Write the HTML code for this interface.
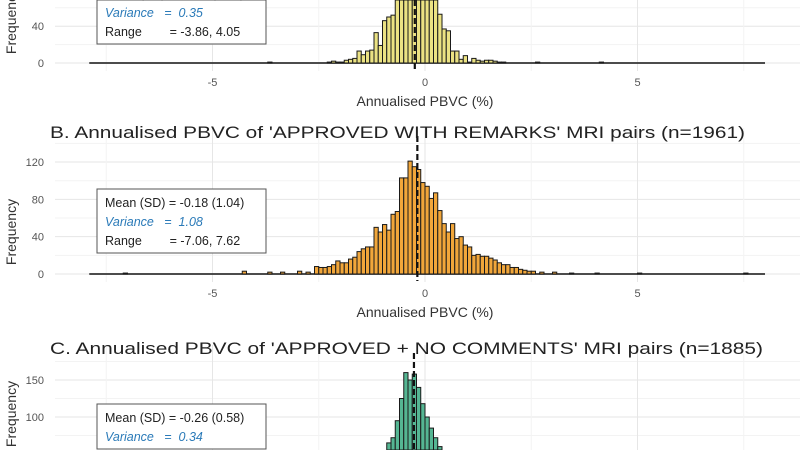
<!DOCTYPE html>
<html><head><meta charset="utf-8"><style>
html,body{margin:0;padding:0;background:#fff;width:800px;height:450px;overflow:hidden;}
svg{display:block;font-family:"Liberation Sans",sans-serif;overflow:hidden;}
</style></head><body>
<svg id="chart" width="800" height="450" viewBox="0 0 800 450" xmlns="http://www.w3.org/2000/svg"></svg>
<script>
// Panel A (yellow)
const binsA = [-2.3,-2.2,-2.1,-2.0,-1.9,-1.8,-1.7,-1.6,-1.5,-1.4,-1.3,-1.2,-1.1,-1.0,-0.9,-0.8,-0.7,-0.6,-0.5,-0.4,-0.3,-0.2,-0.1,0.0,0.1,0.2,0.3,0.4,0.5,0.6,0.7,0.8,0.9,1.0,1.1,1.2,1.3,1.4,1.5,1.6,1.7,1.8,-3.7,2.6,4.1];
const countsA = [1,2,1,1,3,4,5,13,9,13,14,33,19,46,50,52,80,100,125,140,150,145,130,115,95,75,53,37,35,13,13,4,8,1,5,3,2,3,3,2,1,1,1,1,1];
const ticksA = [0,40];
// Panel B (orange)
const binsB = [-2.6,-2.5,-2.4,-2.3,-2.2,-2.1,-2.0,-1.9,-1.8,-1.7,-1.6,-1.5,-1.4,-1.3,-1.2,-1.1,-1.0,-0.9,-0.8,-0.7,-0.6,-0.5,-0.4,-0.3,-0.2,-0.1,0.0,0.1,0.2,0.3,0.4,0.5,0.6,0.7,0.8,0.9,1.0,1.1,1.2,1.3,1.4,1.5,1.6,1.7,1.8,1.9,2.0,2.1,2.2,2.3,2.4,2.5,2.7,3.0,3.4,4.0,5.0,7.5,-7.1,-4.3,-3.7,-3.4,-3.0,-2.8];
const countsB = [8,7,7,8,10,14,12,12,16,18,24,27,29,29,50,45,53,47,64,67,103,103,121,115,112,98,94,81,87,68,54,45,54,38,40,31,29,20,21,19,19,17,15,12,10,10,7,7,5,4,3,3,2,2,1,1,1,1,1,3,2,2,3,2];
const ticksB = [0,40,80,120];
// Panel C (green)
const binsC = [-1.5,-1.4,-1.3,-1.2,-1.1,-1.0,-0.9,-0.8,-0.7,-0.6,-0.5,-0.4,-0.3,-0.2,-0.1,0.0,0.1,0.2,0.3,0.4,0.5,0.6,0.7];
const countsC = [10,15,22,30,40,55,65,72,95,125,160,150,158,140,118,100,85,72,60,45,30,20,12];
const ticksC = [0,50,100,150];
const xTicks = [-5,0,5];

const NS = "http://www.w3.org/2000/svg";
const svg = document.getElementById('chart');
function mk(tag, attrs, parent){const e=document.createElementNS(NS,tag);for(const k in attrs)e.setAttribute(k,attrs[k]);(parent||svg).appendChild(e);return e;}
function x(u){return 425 + 42.5*u;}
const H = 450;

const panels = [
 {id:'a', y0:63, ppc:0.92, top:-10, bins:binsA, counts:countsA, ticks:ticksA, fill:'#ebe283', mean:-0.24, bw:0.1, title:null, yTitle:21,
  box:{y:-20, lines:[['Mean (SD) = -0.24 (0.59)','#222',false],['Variance   =  0.35','#2a7ab8',true],['Range        = -3.86, 4.05','#222',false]]}},
 {id:'b', y0:274, ppc:0.933, top:148, bins:binsB, counts:countsB, ticks:ticksB, fill:'#f1a63a', mean:-0.18, bw:0.1, yTitle:232,
  title:"B.   Annualised PBVC of 'APPROVED WITH REMARKS' MRI pairs (n=1961)", titleY:138, titleLen:695,
  box:{y:189, lines:[['Mean (SD) = -0.18 (1.04)','#222',false],['Variance   =  1.08','#2a7ab8',true],['Range        = -7.06, 7.62','#222',false]]}},
 {id:'c', y0:491, ppc:0.74, top:365, bins:binsC, counts:countsC, ticks:ticksC, fill:'#55b693', mean:-0.26, bw:0.1, yTitle:414,
  title:"C.   Annualised PBVC of 'APPROVED + NO COMMENTS' MRI pairs (n=1885)", titleY:354, titleLen:713,
  box:{y:404, lines:[['Mean (SD) = -0.26 (0.58)','#222',false],['Variance   =  0.34','#2a7ab8',true]]}}
];

panels.forEach(p=>{
  const g = mk('g',{});
  
  
  const y = c => p.y0 - c*p.ppc;
  const step = p.ticks[1]-p.ticks[0];
  for(let c=p.ticks[0]; y(c) > p.top-20; c+=step/2){
    const yy=y(c);
    if(yy>H-1) continue;
    const gl=mk('line',{x1:55,x2:800,y1:yy,y2:yy,stroke:(Math.round(c/step*2)%2===0)?'#e6e6e6':'#f3f3f3','stroke-width':1},g);
    
    
  }
  [-7.5,-5,-2.5,0,2.5,5,7.5].forEach(u=>{
    const vl=mk('line',{x1:x(u),x2:x(u),y1:Math.max(p.top-20,0),y2:Math.min(p.y0+8,H),stroke:(u%5===0)?'#e6e6e6':'#f3f3f3','stroke-width':1},g);
    
    
  });
  p.ticks.forEach(t=>{
    if(y(t)>H-6) return;
    const tl=mk('text',{x:44,y:y(t)+4,'text-anchor':'end','font-size':11,fill:'#555'},g);
    tl.textContent=t;
    
    
  });
  if(p.y0<H){
    const bl=mk('line',{x1:x(-7.9),x2:x(8),y1:p.y0,y2:p.y0,stroke:'#333','stroke-width':1.8},g);
    
    
  }
  p.bins.forEach((b,i)=>{
    const c=p.counts[i];
    const top=Math.max(y(c),0);
    const bottom=Math.min(p.y0,H);
    if(top>=bottom) return;
    const r=mk('rect',{x:x(b),y:top,width:42.5*p.bw,height:bottom-top,fill:p.fill,stroke:'#1a1a1a','stroke-width':1},g);
    
    
  });
  const ml=mk('line',{x1:x(p.mean),x2:x(p.mean),y1:Math.max(p.top-12,0),y2:Math.min(p.y0+7,H),stroke:'#111','stroke-width':2.2,'stroke-dasharray':'6,3'},g);
  
  
  if(p.y0+45<H){
    xTicks.forEach(t=>{
      const xt=mk('text',{x:x(t),y:p.y0+23,'text-anchor':'middle','font-size':11,fill:'#555'},g);
      xt.textContent=t;
      
      
    });
    const xa=mk('text',{x:425,y:p.y0+43,'text-anchor':'middle','font-size':14,fill:'#333'},g);
    xa.textContent='Annualised PBVC (%)';
    
    
  }
  const ya=mk('text',{x:0,y:0,'text-anchor':'middle','font-size':14,fill:'#333',transform:`translate(16,${p.yTitle}) rotate(-90)`},g);
  ya.textContent='Frequency';
  
  
  if(p.title){
    const tt=mk('text',{x:50,y:p.titleY,'font-size':17,fill:'#222',textLength:p.titleLen,lengthAdjust:'spacingAndGlyphs'},g);
    tt.textContent=p.title;
    
    
  }
  const bx=mk('rect',{x:97,y:Math.max(p.box.y,0),width:169,height:Math.min(p.box.y+64,H-1)-Math.max(p.box.y,0),fill:'#fff',stroke:'#555','stroke-width':1},g);
  
  
  p.box.lines.forEach((ln,i)=>{
    const t=mk('text',{x:105,y:p.box.y+18+i*19,'font-size':12.5,fill:ln[1],'font-style':ln[2]?'italic':'normal'},g);
    t.setAttribute('style','white-space:pre');
    t.textContent=ln[0];
    
    
  });
});
</script>
</body></html>
